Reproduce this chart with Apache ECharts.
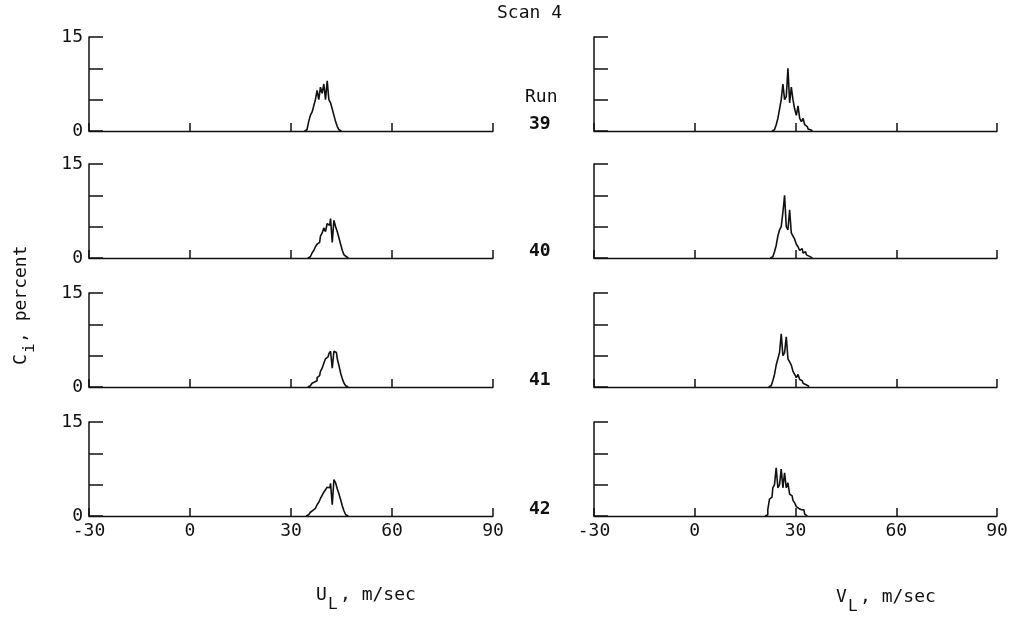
<!DOCTYPE html>
<html>
<head>
<meta charset="utf-8">
<script src="https://cdn.jsdelivr.net/npm/echarts@6/dist/echarts.min.js"></script>
<style>
  html, body { margin: 0; padding: 0; background: #fff; }
  #chart { width: 1011px; height: 618px; }
</style>
</head>
<body>
<div id="chart"></div>
<script>
// histogram bins are 0.5 m/s wide, values in percent (C_i)
var BIN = 0.5;
var runs = ["39", "40", "41", "42"];

// U_L distributions, first bin centre then values
var uStart = [34.5, 35.5, 35.5, 35];
var u39 = [0.2, 0.5, 1.5, 2.5, 3, 4, 5, 6.5, 5, 7, 6, 7.5, 5, 8, 5, 4.5, 3.5, 2.5, 1.5, 0.7, 0.2, 0];
var u40 = [0.2, 0.4, 0.8, 1.2, 1.8, 2.2, 2.5, 3.5, 4, 4.8, 4.2, 5.5, 5.2, 6.3, 2.5, 6, 5, 4.2, 3.2, 2.2, 1.2, 0.5, 0.2, 0];
var u41 = [0.2, 0.3, 0.6, 0.8, 1, 1.5, 1.8, 2.5, 3, 3.8, 4.5, 4.8, 5.3, 5.7, 3, 5.7, 5.5, 4.5, 3.4, 2.2, 1.3, 0.6, 0.2, 0];
var u42 = [0.2, 0.4, 0.6, 0.9, 1.2, 1.5, 1.8, 2.2, 2.8, 3.3, 3.8, 4.2, 4.6, 4.5, 5.2, 1.8, 5.8, 5.3, 4.3, 3.5, 2.6, 1.6, 0.8, 0.2, 0];

// V_L distributions
var vStart = [23.5, 23, 22.5, 21.5];
var v39 = [0.2, 0.5, 1, 2, 3.5, 5, 7.5, 5, 5.5, 10, 4.5, 7, 5, 3.5, 2.5, 4, 2, 1.5, 2, 1, 0.7, 0.3, 0.2, 0];
var v40 = [0.2, 0.5, 1, 2, 3.5, 4.5, 5, 7.3, 10, 5, 4.5, 7.7, 4, 3.5, 3, 2.2, 1.8, 1.2, 1.5, 0.8, 1, 0.5, 0.3, 0.1, 0];
var v41 = [0.2, 0.5, 1, 2, 3.5, 4.5, 5.5, 8.5, 5, 5.5, 8, 4.5, 4, 3.5, 2.5, 2, 1.5, 2, 1.2, 1, 0.6, 0.4, 0.2, 0];
var v42 = [0.2, 1, 2.7, 3, 4.5, 5, 7.7, 4.5, 5, 7.5, 4.5, 6.9, 4.5, 5.3, 3.5, 3.2, 2.5, 2.1, 1.5, 1.2, 1, 0.8, 1, 0.3, 0];

var uData = [u39, u40, u41, u42];
var vData = [v39, v40, v41, v42];

var xTicks = [-30, 0, 30, 60, 90];
var yTicks = [0, 5, 10, 15];

var FONT = "DejaVu Sans Mono";
var colLeft = [89, 594];
var colWidth = [404, 403];
var rowTop = [37, 164, 293, 422];
var rowHeight = 94;

function toPairs(start, vals) {
  var out = [[start - BIN, 0]];
  vals.forEach(function (v, i) { out.push([start + i * BIN, v]); });
  return out;
}

var grids = [], xAxes = [], yAxes = [], series = [];
for (var r = 0; r < 4; r++) {
  for (var c = 0; c < 2; c++) {
    var idx = grids.length;
    grids.push({ left: colLeft[c], top: rowTop[r], width: colWidth[c], height: rowHeight });
    xAxes.push({
      type: "value", gridIndex: idx,
      min: xTicks[0], max: xTicks[xTicks.length - 1], interval: 30,
      axisLine: { onZero: false, lineStyle: { color: "#111", width: 1.3 } },
      axisTick: { inside: true, length: 8, lineStyle: { color: "#111", width: 1.5 } },
      axisLabel: {
        show: r === 3, color: "#111", fontFamily: FONT, fontSize: 18, margin: 6,
        showMinLabel: true, showMaxLabel: true
      },
      splitLine: { show: false }
    });
    yAxes.push({
      type: "value", gridIndex: idx,
      min: yTicks[0], max: yTicks[yTicks.length - 1], interval: 5,
      axisLine: { show: true, onZero: false, lineStyle: { color: "#111", width: 1.5 } },
      axisTick: { inside: true, length: 14, lineStyle: { color: "#111", width: 1.5 } },
      axisLabel: {
        show: c === 0, color: "#111", fontFamily: FONT, fontSize: 18, margin: 6,
        formatter: function (v) { return (v === 0 || v === 15) ? String(v) : ""; }
      },
      splitLine: { show: false }
    });
    var pairs = c === 0 ? toPairs(uStart[r], uData[r]) : toPairs(vStart[r], vData[r]);
    series.push({
      type: "line", xAxisIndex: idx, yAxisIndex: idx,
      step: "middle", symbol: "none", silent: true,
      lineStyle: { color: "#111", width: 1.6 },
      data: pairs
    });
  }
}

var txt = { fill: "#111", font: "18px '" + FONT + "'" };
var graphics = [
  { type: "text", left: 497, top: 4, style: Object.assign({ text: "Scan 4" }, txt) },
  { type: "text", left: 525, top: 88, style: Object.assign({ text: "Run" }, txt) },
  // U_L, m/sec
  { type: "text", left: 316, top: 586, style: Object.assign({ text: "U" }, txt) },
  { type: "text", left: 328, top: 597, style: { text: "L", fill: "#111", font: "16px '" + FONT + "'" } },
  { type: "text", left: 340, top: 586, style: Object.assign({ text: ", m/sec" }, txt) },
  // V_L, m/sec
  { type: "text", left: 836, top: 588, style: Object.assign({ text: "V" }, txt) },
  { type: "text", left: 848, top: 599, style: { text: "L", fill: "#111", font: "16px '" + FONT + "'" } },
  { type: "text", left: 860, top: 588, style: Object.assign({ text: ", m/sec" }, txt) },
  // C_i, percent (rotated)
  {
    type: "group", x: 12, y: 365, rotation: Math.PI / 2,
    children: [
      { type: "text", x: 0, y: 0, style: Object.assign({ text: "C" }, txt) },
      { type: "text", x: 12, y: 10, style: { text: "i", fill: "#111", font: "16px '" + FONT + "'" } },
      { type: "text", x: 22, y: 0, style: Object.assign({ text: ", percent" }, txt) }
    ]
  }
];
var runY = [115, 242, 371, 500];
runs.forEach(function (name, i) {
  graphics.push({
    type: "text", left: 529, top: runY[i],
    style: { text: name, fill: "#111", font: "bold 18px '" + FONT + "'" }
  });
});

var chart = echarts.init(document.getElementById("chart"), null, { renderer: "canvas" });
chart.setOption({
  animation: false,
  backgroundColor: "#fff",
  grid: grids,
  xAxis: xAxes,
  yAxis: yAxes,
  series: series,
  graphic: graphics
});
</script>
</body>
</html>
